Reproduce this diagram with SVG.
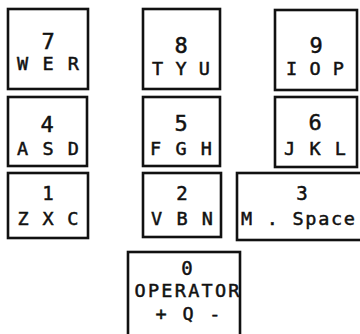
<svg xmlns="http://www.w3.org/2000/svg" width="360" height="334" viewBox="0 0 360 334">
<style>
rect{fill:none;stroke:#111;stroke-width:2.6}
text{font-family:"DejaVu Sans Mono","Liberation Mono",monospace;fill:#111;stroke:#111;stroke-width:0.5;text-anchor:middle}
.d{font-size:22px}
.s{font-size:19px}
.l{font-size:18.5px}
</style>
<rect x="0" y="0" width="360" height="334" style="fill:#fff;stroke:none"/>
<g id="key7"><rect x="8" y="9" width="80" height="80"/><text class="d" x="48" y="49">7</text><text class="l" x="48" y="70" textLength="62" lengthAdjust="spacing">W E R</text></g>
<g id="key8"><rect x="143" y="9" width="77" height="80"/><text class="d" x="181" y="53">8</text><text class="l" x="181" y="75" textLength="58" lengthAdjust="spacing">T Y U</text></g>
<g id="key9"><rect x="275" y="10" width="82" height="80"/><text class="d" x="316" y="53">9</text><text class="l" x="315" y="75" textLength="58" lengthAdjust="spacing">I O P</text></g>
<g id="key4"><rect x="8" y="97" width="79" height="69"/><text class="d" x="47" y="132">4</text><text class="l" x="48" y="155" textLength="62" lengthAdjust="spacing">A S D</text></g>
<g id="key5"><rect x="143" y="97" width="77" height="69"/><text class="d" x="181" y="131">5</text><text class="l" x="181" y="155" textLength="62" lengthAdjust="spacing">F G H</text></g>
<g id="key6"><rect x="275" y="97" width="82" height="70"/><text class="d" x="315" y="130">6</text><text class="l" x="315" y="155" textLength="62" lengthAdjust="spacing">J K L</text></g>
<g id="key1"><rect x="8" y="173" width="80" height="65"/><text class="s" x="48" y="200">1</text><text class="l" x="48" y="225" textLength="61" lengthAdjust="spacing">Z X C</text></g>
<g id="key2"><rect x="143" y="173" width="78" height="64"/><text class="s" x="182" y="200">2</text><text class="l" x="182" y="225" textLength="62" lengthAdjust="spacing">V B N</text></g>
<g id="key3"><rect x="237" y="173" width="130" height="67"/><text class="s" x="302" y="200">3</text><text class="l" x="298" y="225" textLength="114" lengthAdjust="spacing">M . Space</text></g>
<g id="key0"><rect x="128" y="252" width="112" height="90"/><text class="s" x="187" y="275">0</text><text class="l" x="187" y="297" textLength="105" lengthAdjust="spacing">OPERATOR</text><text class="l" x="188" y="320" textLength="65" lengthAdjust="spacing">+ Q -</text></g>
<g id="connectors"></g>
</svg>
